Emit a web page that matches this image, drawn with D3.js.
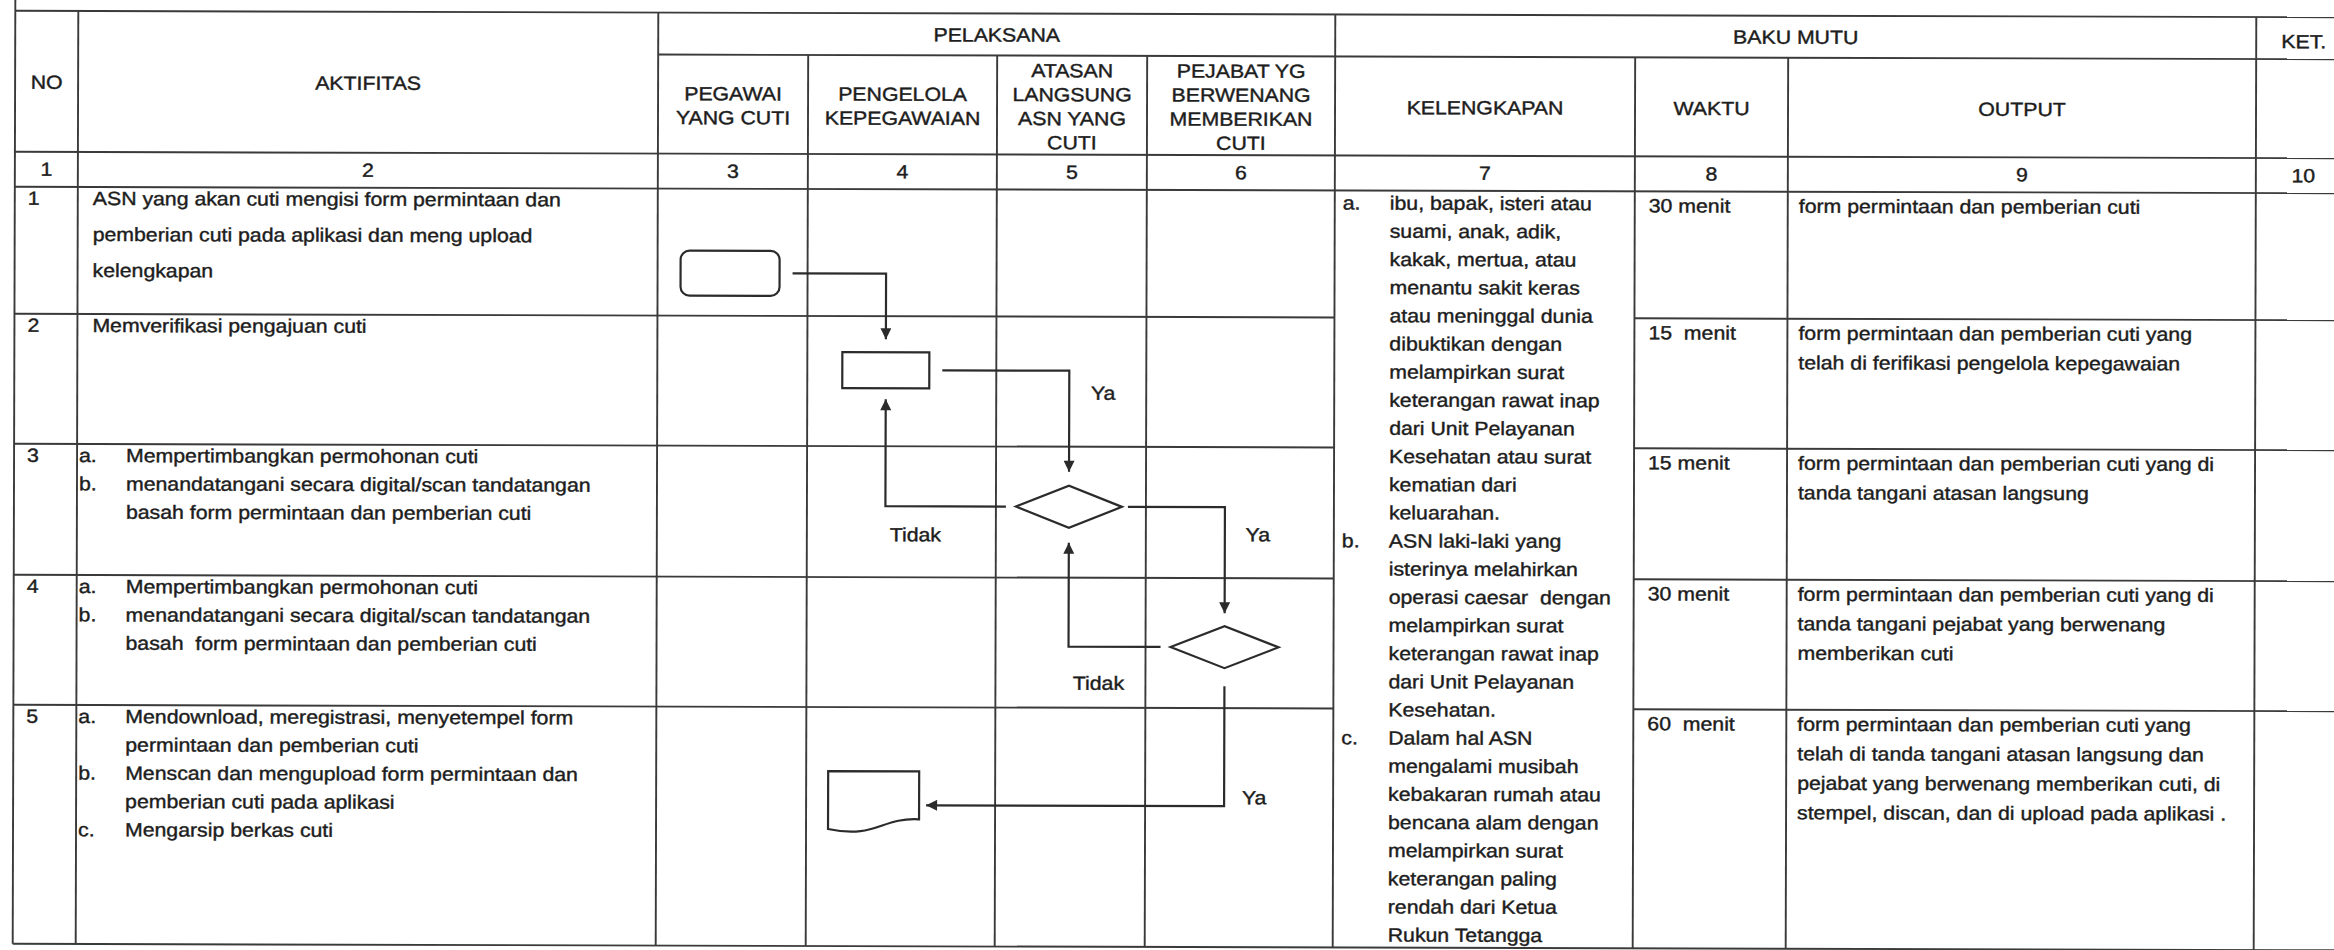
<!DOCTYPE html>
<html><head><meta charset="utf-8">
<script src="https://cdn.jsdelivr.net/npm/d3@7"></script>
<style>
html,body{margin:0;padding:0;background:#fff;overflow:hidden;}
text{font-family:"Liberation Sans",Arial,sans-serif;font-size:19px;fill:#1d1d1d;stroke:#1d1d1d;stroke-width:0.4px;white-space:pre;}
</style></head><body><svg id="c" width="2334" height="950"></svg>
<script>
// ---------------- DATA ----------------
const columns = ["NO","AKTIFITAS","PEGAWAI","PENGELOLA","ATASAN","PEJABAT","KELENGKAPAN","WAKTU","OUTPUT","KET"];
const groupHeaders = [
  {label:"PELAKSANA", from:"PEGAWAI", to:"PEJABAT"},
  {label:"BAKU MUTU", from:"KELENGKAPAN", to:"OUTPUT"}
];
const spanHeaders = [
  {col:"NO", lines:["NO"]},
  {col:"AKTIFITAS", lines:["AKTIFITAS"]}
];
const ketHeader = ["KET."];
const subHeaders = [
  {col:"PEGAWAI", lines:["PEGAWAI","YANG CUTI"]},
  {col:"PENGELOLA", lines:["PENGELOLA","KEPEGAWAIAN"]},
  {col:"ATASAN", lines:["ATASAN","LANGSUNG","ASN YANG","CUTI"]},
  {col:"PEJABAT", lines:["PEJABAT YG","BERWENANG","MEMBERIKAN","CUTI"]},
  {col:"KELENGKAPAN", lines:["KELENGKAPAN"]},
  {col:"WAKTU", lines:["WAKTU"]},
  {col:"OUTPUT", lines:["OUTPUT"]}
];
const colNumbers = ["1","2","3","4","5","6","7","8","9","10"];
const rowNumbers = ["1","2","3","4","5"];
const activities = [
  [{m:"", lines:["ASN yang akan cuti mengisi form permintaan dan","pemberian cuti pada aplikasi dan meng upload","kelengkapan"]}],
  [{m:"", lines:["Memverifikasi pengajuan cuti"]}],
  [{m:"a.", lines:["Mempertimbangkan permohonan cuti"]},
   {m:"b.", lines:["menandatangani secara digital/scan tandatangan","basah form permintaan dan pemberian cuti"]}],
  [{m:"a.", lines:["Mempertimbangkan permohonan cuti"]},
   {m:"b.", lines:["menandatangani secara digital/scan tandatangan","basah  form permintaan dan pemberian cuti"]}],
  [{m:"a.", lines:["Mendownload, meregistrasi, menyetempel form","permintaan dan pemberian cuti"]},
   {m:"b.", lines:["Menscan dan mengupload form permintaan dan","pemberian cuti pada aplikasi"]},
   {m:"c.", lines:["Mengarsip berkas cuti"]}]
];
const waktu = ["30 menit","15  menit","15 menit","30 menit","60  menit"];
const outputs = [
  ["form permintaan dan pemberian cuti"],
  ["form permintaan dan pemberian cuti yang","telah di ferifikasi pengelola kepegawaian"],
  ["form permintaan dan pemberian cuti yang di","tanda tangani atasan langsung"],
  ["form permintaan dan pemberian cuti yang di","tanda tangani pejabat yang berwenang","memberikan cuti"],
  ["form permintaan dan pemberian cuti yang","telah di tanda tangani atasan langsung dan","pejabat yang berwenang memberikan cuti, di","stempel, discan, dan di upload pada aplikasi ."]
];
const kelengkapan = [
  {m:"a.", lines:["ibu, bapak, isteri atau","suami, anak, adik,","kakak, mertua, atau","menantu sakit keras","atau meninggal dunia","dibuktikan dengan","melampirkan surat","keterangan rawat inap","dari Unit Pelayanan","Kesehatan atau surat","kematian dari","keluarahan."]},
  {m:"b.", lines:["ASN laki-laki yang","isterinya melahirkan","operasi caesar  dengan","melampirkan surat","keterangan rawat inap","dari Unit Pelayanan","Kesehatan."]},
  {m:"c.", lines:["Dalam hal ASN","mengalami musibah","kebakaran rumah atau","bencana alam dengan","melampirkan surat","keterangan paling","rendah dari Ketua","Rukun Tetangga"]}
];
const flowNodes = [
  {id:"start",  type:"terminator", row:"1", lane:"PEGAWAI"},
  {id:"verify", type:"process",    row:"2", lane:"PENGELOLA"},
  {id:"d1",     type:"decision",   row:"3", lane:"ATASAN"},
  {id:"d2",     type:"decision",   row:"4", lane:"PEJABAT"},
  {id:"doc",    type:"document",   row:"5", lane:"PENGELOLA"}
];
const flowLinks = [
  {source:"start",  target:"verify", exit:"right",  enter:"top",    label:""},
  {source:"verify", target:"d1",     exit:"right",  enter:"top",    label:"Ya"},
  {source:"d1",     target:"verify", exit:"left",   enter:"bottom", label:"Tidak"},
  {source:"d1",     target:"d2",     exit:"right",  enter:"top",    label:"Ya"},
  {source:"d2",     target:"d1",     exit:"left",   enter:"bottom", label:"Tidak"},
  {source:"d2",     target:"doc",    exit:"bottom", enter:"right",  label:"Ya"}
];

// ---------------- LAYOUT ----------------
const SX = 1.12;
const colEdges = [14, 77, 657, 807, 996, 1146, 1334, 1634, 1787, 2255, 2350];
const Y = {top:14, sub:56, head:155, num:190, bottom:947};
const rowEdges = [190, 317, 447, 578, 708, 947];
const nodeLayout = {
  start:  {dx:-2.5, dy:84.5, hw:49.5, hh:22.5},
  verify: {dx:-16,  dy:54,   hw:43.5, hh:18},
  d1:     {dx:-2,   dy:60,   hw:53,   hh:21},
  d2:     {dx:-15,  dy:69,   hw:54,   hh:21},
  doc:    {dx:-27,  dy:98,   hw:45.5, hh:34}
};
const linkLayout = [
  {g0:13, g1:13, lx:0,  ly:0},
  {g0:13, g1:14, lx:34, ly:22},
  {g0:10, g1:11, lx:30, ly:28},
  {g0:6,  g1:13, lx:33, ly:27},
  {g0:10, g1:15, lx:30, ly:36},
  {g0:18, g1:7,  lx:30, ly:-9}
];

// ---------------- SCALES ----------------
const xL = d3.scaleOrdinal(columns, colEdges.slice(0,-1));
const xR = d3.scaleOrdinal(columns, colEdges.slice(1));
const xC = c => (xL(c)+xR(c))/2;
const rTop = d3.scaleOrdinal(rowNumbers, rowEdges.slice(0,-1));
const rBot = d3.scaleOrdinal(rowNumbers, rowEdges.slice(1));

const svgRoot = d3.select("#c");
svgRoot.append("rect").attr("width",2334).attr("height",950).attr("fill","#fff");
const defs = svgRoot.append("defs");
defs.append("marker").attr("id","arr").attr("viewBox","0 0 10 10")
  .attr("refX",10).attr("refY",5).attr("markerUnits","userSpaceOnUse")
  .attr("markerWidth",12).attr("markerHeight",11).attr("orient","auto")
  .append("path").attr("d","M0,0 L10,5 L0,10 z").attr("fill","#2b2b2b");
// slight scan tilt
const svg = svgRoot.append("g").attr("transform","rotate(0.16,1170,480)");

const gridG = svg.append("g").attr("stroke","#3a3a3a").attr("stroke-width",1.9);
const textG = svg.append("g");
function T(x,y,s,anchor){
  return textG.append("text")
    .attr("transform",`translate(${x},${y}) scale(${SX},1)`)
    .attr("text-anchor",anchor||"start").text(s);
}
function hline(x1,x2,y){gridG.append("line").attr("x1",x1).attr("x2",x2).attr("y1",y).attr("y2",y);}
function vline(x,y1,y2){gridG.append("line").attr("x1",x).attr("x2",x).attr("y1",y1).attr("y2",y2);}

// ---------------- GRID ----------------
const right = colEdges[colEdges.length-1];
hline(xL("NO"), right, Y.top);
hline(xL("PEGAWAI"), right, Y.sub);
hline(xL("NO"), right, Y.head);
hline(xL("NO"), right, Y.num);
rowEdges.slice(1,-1).forEach(y=>{
  hline(xL("NO"), xR("PEJABAT"), y);
  hline(xL("WAKTU"), right, y);
});
hline(xL("NO"), right, Y.bottom);
vline(xL("NO"), -5, Y.bottom);
["AKTIFITAS","PEGAWAI","KELENGKAPAN","KET"].forEach(c=>vline(xL(c), Y.top, Y.bottom));
["PENGELOLA","ATASAN","PEJABAT","WAKTU","OUTPUT"].forEach(c=>vline(xL(c), Y.sub, Y.bottom));
vline(right, Y.top, Y.bottom);

// ---------------- HEADERS ----------------
groupHeaders.forEach(g=>T((xL(g.from)+xR(g.to))/2, 42, g.label, "middle"));
spanHeaders.forEach(h=>h.lines.forEach((l,i)=>T(xC(h.col), 92+i*24, l, "middle")));
ketHeader.forEach(l=>T(xC("KET"), 45, l, "middle"));
subHeaders.forEach(h=>{
  const n=h.lines.length, cy=(Y.sub+Y.head)/2+1;
  h.lines.forEach((l,i)=>T(xC(h.col), cy+7+(i-(n-1)/2)*24, l, "middle"));
});
colNumbers.forEach((n,i)=>T(xC(columns[i]), 179, n, "middle"));

// ---------------- BODY ----------------
rowNumbers.forEach((rn,ri)=>{
  const top = rTop(rn);
  T(xL("NO")+13, top+18, rn);
  const gap = ri===0 ? 36 : 28.3;
  let k=0;
  activities[ri].forEach(item=>{
    item.lines.forEach((l,j)=>{
      const y = top+18+k*gap;
      if(item.m===""){ T(xL("AKTIFITAS")+15, y, l); }
      else { if(j===0) T(xL("AKTIFITAS")+2, y, item.m); T(xL("AKTIFITAS")+49, y, l); }
      k++;
    });
  });
  T(xL("WAKTU")+14, top+21, waktu[ri]);
  outputs[ri].forEach((l,j)=>T(xL("OUTPUT")+11, top+21+j*29.5, l));
});
let kk=0;
kelengkapan.forEach(item=>{
  item.lines.forEach((l,j)=>{
    const y = Y.num+19+kk*28.15;
    if(j===0) T(xL("KELENGKAPAN")+8, y, item.m);
    T(xL("KELENGKAPAN")+55, y, l);
    kk++;
  });
});

// ---------------- FLOWCHART ----------------
const flowG = svg.append("g").attr("fill","none").attr("stroke","#2b2b2b").attr("stroke-width",2.2);
const nodePos = {};
flowNodes.forEach(n=>{
  const L=nodeLayout[n.id];
  nodePos[n.id] = {cx:xC(n.lane)+L.dx, cy:rTop(n.row)+L.dy, hw:L.hw, hh:L.hh};
});
flowNodes.forEach(n=>{
  const p=nodePos[n.id];
  if(n.type==="terminator"){
    flowG.append("rect").attr("x",p.cx-p.hw).attr("y",p.cy-p.hh).attr("width",2*p.hw).attr("height",2*p.hh).attr("rx",9).attr("fill","#fff");
  } else if(n.type==="process"){
    flowG.append("rect").attr("x",p.cx-p.hw).attr("y",p.cy-p.hh).attr("width",2*p.hw).attr("height",2*p.hh).attr("fill","#fff");
  } else if(n.type==="decision"){
    flowG.append("path").attr("fill","#fff").attr("d",`M${p.cx-p.hw},${p.cy} L${p.cx},${p.cy-p.hh} L${p.cx+p.hw},${p.cy} L${p.cx},${p.cy+p.hh} Z`);
  } else if(n.type==="document"){
    const l=p.cx-p.hw, r=p.cx+p.hw, t=p.cy-p.hh;
    flowG.append("path").attr("fill","#fff").attr("d",
      `M${l},${t} H${r} V${p.cy+14} C${r-38},${p.cy+12} ${l+48},${p.cy+34} ${l},${p.cy+24} Z`);
  }
});
flowLinks.forEach((lk,i)=>{
  const s=nodePos[lk.source], t=nodePos[lk.target], L=linkLayout[i];
  let p0, corner, p1;
  if(lk.exit==="right") p0=[s.cx+s.hw+L.g0, s.cy];
  else if(lk.exit==="left") p0=[s.cx-s.hw-L.g0, s.cy];
  else p0=[s.cx, s.cy+s.hh+L.g0];
  if(lk.enter==="top"){ p1=[t.cx, t.cy-t.hh-L.g1]; corner=[t.cx,p0[1]]; }
  else if(lk.enter==="bottom"){ p1=[t.cx, t.cy+t.hh+L.g1]; corner=[t.cx,p0[1]]; }
  else { p1=[t.cx+t.hw+L.g1, t.cy]; corner=[p0[0], t.cy]; }
  flowG.append("path").attr("d", d3.line()([p0,corner,p1])).attr("marker-end","url(#arr)");
  if(lk.label) T(corner[0]+L.lx, corner[1]+L.ly+7, lk.label, "middle");
});
</script></body></html>
